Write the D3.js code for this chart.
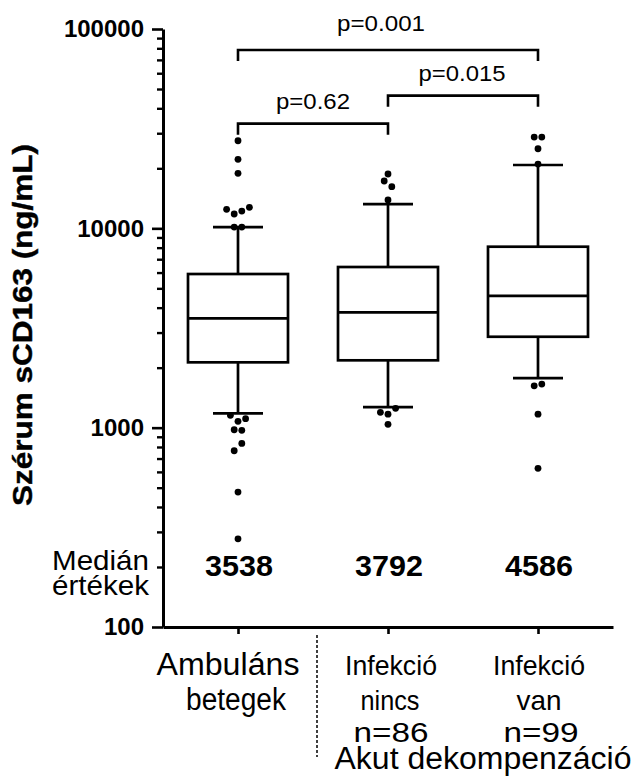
<!DOCTYPE html>
<html>
<head>
<meta charset="utf-8">
<script src="https://cdn.jsdelivr.net/npm/d3@7"></script>
<style>
  html, body { margin: 0; padding: 0; background: #fff; }
  svg { display: block; font-family: "Liberation Sans", Arial, Helvetica, sans-serif; }
</style>
</head>
<body>
<svg id="chart" width="634" height="782"></svg>
<script>
// Patient groups along the x axis
const groups = ["ambulans", "nincs", "van"];

// Box summaries of serum sCD163 (ng/mL)
const whiskerLow  = [1180, 1269, 1774];
const q1          = [2127, 2177, 2858];
const median      = [3538, 3792, 4586];
const q3          = [5900, 6397, 8087];
const whiskerHigh = [10150, 13240, 20780];

// Values beyond the whiskers; each inner list is one row of dots set side by side
const outliers = [
  [[27500], [22200], [18880], [12450, 11800, 12200, 12750], [10150, 10150],
   [1153, 1076, 1109], [976, 970], [766, 834], [475], [277]],
  [[18730], [17275, 16180], [13870], [1194, 1168, 1250], [1039]],
  [[28710, 28710], [25080], [21000], [1622, 1654], [1168], [625]]
];

// Median values printed under the boxes
const medianLabels = ["3538", "3792", "4586"];

// Axis ticks
const yMajorTicks = [100, 1000, 10000, 100000];
const yTickLabels = ["100", "1000", "10000", "100000"];

// Group names under the x axis
const groupLines = [
  ["Ambuláns", "betegek"],
  ["Infekció", "nincs", "n=86"],
  ["Infekció", "van", "n=99"]
];

// Pairwise comparisons: groups joined, bracket height (ng/mL), p value
const compareFrom   = [0, 1, 0];
const compareTo     = [1, 2, 2];
const compareLevel  = [33500, 46300, 78500];
const compareLabels = ["p=0.62", "p=0.015", "p=0.001"];

const svg = d3.select("#chart");
const W = 634, H = 782;
svg.append("rect").attr("width", W).attr("height", H).attr("fill", "#fff");

const x = d3.scalePoint().domain(groups).range([163, 613]).padding(0.5);
const y = d3.scaleLog().domain([100, 100000]).range([627, 29]);

// ---- y axis: minor ticks, then major ticks with labels ----
const minorTicks = [];
for (let dec = 100; dec < 100000; dec *= 10) {
  for (let m = 2; m <= 9; m++) minorTicks.push(dec * m);
}
const gMinor = svg.append("g").attr("transform", "translate(163,0)")
  .call(d3.axisLeft(y).tickValues(minorTicks).tickSize(6).tickSizeOuter(0).tickFormat(""));
gMinor.select(".domain").remove();
gMinor.selectAll(".tick line").attr("stroke", "#000").attr("stroke-width", 2.4);

const gY = svg.append("g").attr("transform", "translate(163,0)")
  .call(d3.axisLeft(y).tickValues(yMajorTicks).tickSize(11).tickSizeOuter(0).tickPadding(8)
    .tickFormat((d, i) => yTickLabels[i]));
gY.select(".domain").attr("stroke", "#000").attr("stroke-width", 3);
gY.selectAll(".tick line").attr("stroke", "#000").attr("stroke-width", 2.6);
gY.selectAll(".tick text")
  .attr("fill", "#000")
  .style("font-size", "24px").style("font-weight", "bold")
  .style("font-family", "'Liberation Sans', Arial, sans-serif");

// ---- x axis ----
const gX = svg.append("g").attr("transform", "translate(0,627)")
  .call(d3.axisBottom(x).tickSize(7).tickSizeOuter(0).tickFormat(""));
gX.select(".domain").attr("stroke", "#000").attr("stroke-width", 3);
gX.selectAll(".tick line").attr("stroke", "#000").attr("stroke-width", 2.6);

// ---- y axis title ----
svg.append("text")
  .attr("transform", "translate(32,325) rotate(-90)")
  .attr("text-anchor", "middle")
  .attr("textLength", 362).attr("lengthAdjust", "spacingAndGlyphs")
  .style("font-size", "27px").style("font-weight", "bold")
  .style("stroke", "#000").style("stroke-width", 0.4)
  .text("Szérum sCD163 (ng/mL)");

// ---- boxes and whiskers ----
const boxW = 100, capW = 50, lw = 2.7;
const boxes = svg.append("g").attr("stroke", "#000").attr("stroke-width", lw).attr("fill", "none");
groups.forEach((g, i) => {
  const cx = x(g);
  boxes.append("line").attr("x1", cx).attr("x2", cx).attr("y1", y(q3[i])).attr("y2", y(whiskerHigh[i]));
  boxes.append("line").attr("x1", cx).attr("x2", cx).attr("y1", y(q1[i])).attr("y2", y(whiskerLow[i]));
  boxes.append("line").attr("x1", cx - capW / 2).attr("x2", cx + capW / 2)
    .attr("y1", y(whiskerHigh[i])).attr("y2", y(whiskerHigh[i]));
  boxes.append("line").attr("x1", cx - capW / 2).attr("x2", cx + capW / 2)
    .attr("y1", y(whiskerLow[i])).attr("y2", y(whiskerLow[i]));
  boxes.append("rect").attr("x", cx - boxW / 2).attr("width", boxW)
    .attr("y", y(q3[i])).attr("height", y(q1[i]) - y(q3[i])).attr("fill", "#fff");
  boxes.append("line").attr("x1", cx - boxW / 2).attr("x2", cx + boxW / 2)
    .attr("y1", y(median[i])).attr("y2", y(median[i]));
});

// ---- outlier dots, each row spread horizontally ----
const dotGap = 7.6;
const dots = svg.append("g").attr("fill", "#000");
groups.forEach((g, i) => {
  const cx = x(g);
  outliers[i].forEach(row => {
    row.forEach((v, j) => {
      dots.append("circle")
        .attr("cx", cx + (j - (row.length - 1) / 2) * dotGap)
        .attr("cy", y(v))
        .attr("r", 3.4);
    });
  });
});

// ---- comparison brackets with p values ----
const legDrop = 11;
const pLabelLen = [74, 87, 88];
const pLabelGap = [15, 15, 19];
const pLabelShift = [0, -1, -7];
const brackets = svg.append("g");
compareLabels.forEach((lab, k) => {
  const x1 = x(groups[compareFrom[k]]), x2 = x(groups[compareTo[k]]);
  const yl = y(compareLevel[k]);
  brackets.append("path")
    .attr("d", `M${x1},${yl + legDrop}V${yl}H${x2}V${yl + legDrop}`)
    .attr("fill", "none").attr("stroke", "#000").attr("stroke-width", 2.6);
  brackets.append("text")
    .attr("x", (x1 + x2) / 2 + pLabelShift[k]).attr("y", yl - pLabelGap[k])
    .attr("text-anchor", "middle")
    .attr("textLength", pLabelLen[k]).attr("lengthAdjust", "spacingAndGlyphs")
    .style("font-size", "22px")
    .text(lab);
});

// ---- median values ----
svg.append("text").attr("x", 149).attr("y", 570).attr("text-anchor", "end")
  .attr("textLength", 97).attr("lengthAdjust", "spacingAndGlyphs")
  .style("font-size", "28px").text("Medián");
svg.append("text").attr("x", 149).attr("y", 595).attr("text-anchor", "end")
  .attr("textLength", 97).attr("lengthAdjust", "spacingAndGlyphs")
  .style("font-size", "28px").text("értékek");
groups.forEach((g, i) => {
  svg.append("text").attr("x", x(g) + 1).attr("y", 576).attr("text-anchor", "middle")
    .attr("textLength", 68).attr("lengthAdjust", "spacingAndGlyphs")
    .style("font-size", "29px").style("font-weight", "bold")
    .text(medianLabels[i]);
});

// ---- group labels under the axis ----
const lineBase = [675, 710, 742];
const lineLen = [[143, 100], [92, 59, 75], [92, 45, 75]];
const lineShift = [[-10, -2], [3, 2, 3], [1, 1, 3]];
groups.forEach((g, i) => {
  groupLines[i].forEach((t, j) => {
    svg.append("text")
      .attr("x", x(g) + lineShift[i][j]).attr("y", lineBase[j])
      .attr("text-anchor", "middle")
      .attr("textLength", lineLen[i][j]).attr("lengthAdjust", "spacingAndGlyphs")
      .style("font-size", i === 0 ? "31px" : "28px")
      .text(t);
  });
});

// dotted divider between outpatients and the acute decompensation groups
svg.append("line")
  .attr("x1", 317).attr("x2", 317).attr("y1", 635).attr("y2", 757)
  .attr("stroke", "#000").attr("stroke-width", 1.5).attr("stroke-dasharray", "3,2");

svg.append("text").attr("x", 483).attr("y", 769).attr("text-anchor", "middle")
  .attr("textLength", 297).attr("lengthAdjust", "spacingAndGlyphs")
  .style("font-size", "31px").text("Akut dekompenzáció");
</script>
</body>
</html>
